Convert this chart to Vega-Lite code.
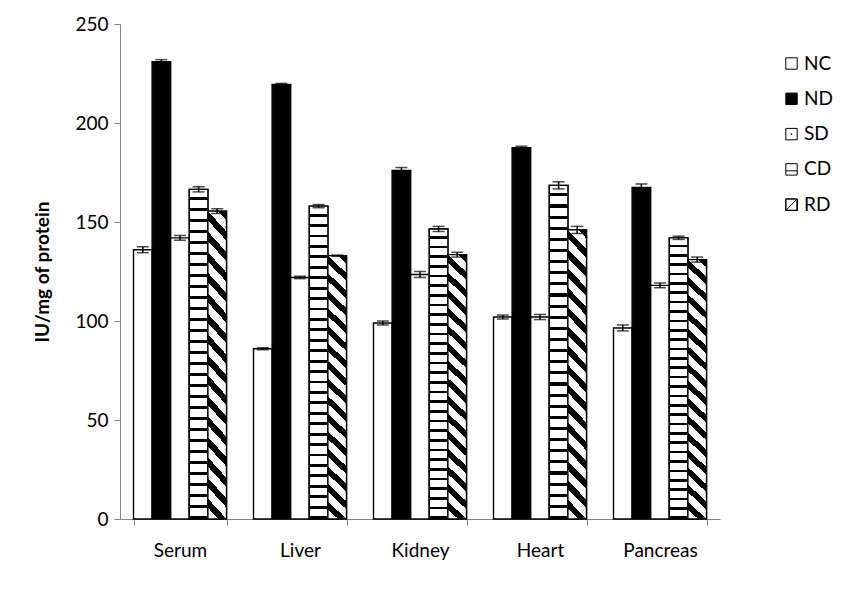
{
  "$schema": "https://vega.github.io/schema/vega-lite/v6.json",
  "width": 600,
  "height": 495,
  "autosize": "none",
  "padding": {"left": 120, "top": 24, "right": 123, "bottom": 78},
  "background": "white",
  "config": {
    "font": "Lato",
    "view": {"stroke": null},
    "axis": {"labelFont": "Lato", "titleFont": "Lato", "labelColor": "black", "titleColor": "black", "domainColor": "#868686", "tickColor": "#868686", "grid": false}
  },
  "data": {
    "values": [
      {"organ": "Serum", "group": "NC", "value": 136, "lo": 134.5, "hi": 137.5},
      {"organ": "Serum", "group": "ND", "value": 231, "lo": 230, "hi": 232},
      {"organ": "Serum", "group": "SD", "value": 142, "lo": 140.8, "hi": 143.2},
      {"organ": "Serum", "group": "CD", "value": 166.5, "lo": 165.2, "hi": 167.8},
      {"organ": "Serum", "group": "RD", "value": 155.5, "lo": 154.3, "hi": 156.7},
      {"organ": "Liver", "group": "NC", "value": 86, "lo": 85.5, "hi": 86.5},
      {"organ": "Liver", "group": "ND", "value": 219.5, "lo": 219, "hi": 220},
      {"organ": "Liver", "group": "SD", "value": 122, "lo": 121.4, "hi": 122.6},
      {"organ": "Liver", "group": "CD", "value": 158, "lo": 157.2, "hi": 158.8},
      {"organ": "Liver", "group": "RD", "value": 133, "lo": 132.7, "hi": 133.3},
      {"organ": "Kidney", "group": "NC", "value": 99, "lo": 98, "hi": 100},
      {"organ": "Kidney", "group": "ND", "value": 176, "lo": 174.5, "hi": 177.5},
      {"organ": "Kidney", "group": "SD", "value": 123.5, "lo": 122, "hi": 125},
      {"organ": "Kidney", "group": "CD", "value": 146.5, "lo": 145.2, "hi": 147.8},
      {"organ": "Kidney", "group": "RD", "value": 133.5, "lo": 132.3, "hi": 134.7},
      {"organ": "Heart", "group": "NC", "value": 102, "lo": 101, "hi": 103},
      {"organ": "Heart", "group": "ND", "value": 187.5, "lo": 186.7, "hi": 188.3},
      {"organ": "Heart", "group": "SD", "value": 102, "lo": 100.7, "hi": 103.3},
      {"organ": "Heart", "group": "CD", "value": 168.5, "lo": 166.7, "hi": 170.3},
      {"organ": "Heart", "group": "RD", "value": 146, "lo": 144.2, "hi": 147.8},
      {"organ": "Pancreas", "group": "NC", "value": 96.5, "lo": 95, "hi": 98},
      {"organ": "Pancreas", "group": "ND", "value": 167.5, "lo": 165.8, "hi": 169.2},
      {"organ": "Pancreas", "group": "SD", "value": 118, "lo": 116.8, "hi": 119.2},
      {"organ": "Pancreas", "group": "CD", "value": 142, "lo": 141.2, "hi": 142.8},
      {"organ": "Pancreas", "group": "RD", "value": 131, "lo": 129.7, "hi": 132.3}
    ]
  },
  "encoding": {
    "x": {
      "field": "organ", "type": "nominal",
      "scale": {"domain": ["Serum", "Liver", "Kidney", "Heart", "Pancreas"], "paddingInner": 0.225, "paddingOuter": 0.1125},
      "axis": {"title": null, "labelAngle": 0, "labelFontSize": 19, "tickSize": 6, "tickBand": "extent", "labelPadding": 16}
    },
    "xOffset": {"field": "group", "type": "nominal", "scale": {"domain": ["NC", "ND", "SD", "CD", "RD"]}}
  },
  "layer": [
    {
      "mark": {"type": "bar", "stroke": "black", "strokeWidth": 1.4},
      "encoding": {
        "y": {
          "field": "value", "type": "quantitative",
          "scale": {"domain": [0, 250], "nice": false},
          "axis": {"title": "IU/mg of protein", "titleFontSize": 19, "titleFontWeight": "bold", "values": [0, 50, 100, 150, 200, 250], "labelFontSize": 19, "tickSize": 6, "labelPadding": 6, "titlePadding": 22}
        },
        "fill": {
          "field": "group", "type": "nominal",
          "scale": {"domain": ["NC", "ND", "SD", "CD", "RD"], "range": ["white", "black", "white", "white", "white"]},
          "legend": {
            "orient": "none", "legendX": 662, "legendY": 30, "title": null, "padding": 0,
            "labelFontSize": 19, "labelFont": "Lato", "labelColor": "black", "symbolSize": 130, "rowPadding": 15.3, "labelOffset": 3,
            "symbolStrokeColor": "black", "symbolStrokeWidth": 1,
            "encode": {
              "symbols": {
                "update": {
                  "shape": {"signal": "datum.value == 'SD' ? 'M-1,-1H1V1H-1Z M-0.06,-0.06H0.06V0.06H-0.06Z' : datum.value == 'CD' ? 'M-1,-1H1V1H-1Z M-1,0.25H1' : datum.value == 'RD' ? 'M-1,-1H1V1H-1V-1V1H1V-1Z M1,-1L1,1L-1,1Z' : 'square'"},
                  "fill": {"signal": "datum.value == 'ND' || datum.value == 'RD' ? 'black' : 'white'"},
                  "stroke": {"value": "black"},
                  "strokeWidth": {"value": 1}
                }
              }
            }
          }
        }
      }
    },
    {
      "transform": [{"filter": "datum.group == 'CD'"}],
      "mark": {
        "type": "bar", "stroke": "black", "strokeWidth": 1.4,
        "fill": {
          "gradient": "linear", "x1": 0, "y1": 0, "x2": 0, "y2": 1,
          "stops": [
            {"offset": 0, "color": "#fff"}, {"offset": 0.024, "color": "#fff"}, {"offset": 0.024, "color": "#000"}, {"offset": 0.0333, "color": "#000"},
            {"offset": 0.0333, "color": "#fff"}, {"offset": 0.0573, "color": "#fff"}, {"offset": 0.0573, "color": "#000"}, {"offset": 0.0667, "color": "#000"},
            {"offset": 0.0667, "color": "#fff"}, {"offset": 0.0907, "color": "#fff"}, {"offset": 0.0907, "color": "#000"}, {"offset": 0.1, "color": "#000"},
            {"offset": 0.1, "color": "#fff"}, {"offset": 0.124, "color": "#fff"}, {"offset": 0.124, "color": "#000"}, {"offset": 0.1333, "color": "#000"},
            {"offset": 0.1333, "color": "#fff"}, {"offset": 0.1573, "color": "#fff"}, {"offset": 0.1573, "color": "#000"}, {"offset": 0.1667, "color": "#000"},
            {"offset": 0.1667, "color": "#fff"}, {"offset": 0.1907, "color": "#fff"}, {"offset": 0.1907, "color": "#000"}, {"offset": 0.2, "color": "#000"},
            {"offset": 0.2, "color": "#fff"}, {"offset": 0.224, "color": "#fff"}, {"offset": 0.224, "color": "#000"}, {"offset": 0.2333, "color": "#000"},
            {"offset": 0.2333, "color": "#fff"}, {"offset": 0.2573, "color": "#fff"}, {"offset": 0.2573, "color": "#000"}, {"offset": 0.2667, "color": "#000"},
            {"offset": 0.2667, "color": "#fff"}, {"offset": 0.2907, "color": "#fff"}, {"offset": 0.2907, "color": "#000"}, {"offset": 0.3, "color": "#000"},
            {"offset": 0.3, "color": "#fff"}, {"offset": 0.324, "color": "#fff"}, {"offset": 0.324, "color": "#000"}, {"offset": 0.3333, "color": "#000"},
            {"offset": 0.3333, "color": "#fff"}, {"offset": 0.3573, "color": "#fff"}, {"offset": 0.3573, "color": "#000"}, {"offset": 0.3667, "color": "#000"},
            {"offset": 0.3667, "color": "#fff"}, {"offset": 0.3907, "color": "#fff"}, {"offset": 0.3907, "color": "#000"}, {"offset": 0.4, "color": "#000"},
            {"offset": 0.4, "color": "#fff"}, {"offset": 0.424, "color": "#fff"}, {"offset": 0.424, "color": "#000"}, {"offset": 0.4333, "color": "#000"},
            {"offset": 0.4333, "color": "#fff"}, {"offset": 0.4573, "color": "#fff"}, {"offset": 0.4573, "color": "#000"}, {"offset": 0.4667, "color": "#000"},
            {"offset": 0.4667, "color": "#fff"}, {"offset": 0.4907, "color": "#fff"}, {"offset": 0.4907, "color": "#000"}, {"offset": 0.5, "color": "#000"},
            {"offset": 0.5, "color": "#fff"}, {"offset": 0.524, "color": "#fff"}, {"offset": 0.524, "color": "#000"}, {"offset": 0.5333, "color": "#000"},
            {"offset": 0.5333, "color": "#fff"}, {"offset": 0.5573, "color": "#fff"}, {"offset": 0.5573, "color": "#000"}, {"offset": 0.5667, "color": "#000"},
            {"offset": 0.5667, "color": "#fff"}, {"offset": 0.5907, "color": "#fff"}, {"offset": 0.5907, "color": "#000"}, {"offset": 0.6, "color": "#000"},
            {"offset": 0.6, "color": "#fff"}, {"offset": 0.624, "color": "#fff"}, {"offset": 0.624, "color": "#000"}, {"offset": 0.6333, "color": "#000"},
            {"offset": 0.6333, "color": "#fff"}, {"offset": 0.6573, "color": "#fff"}, {"offset": 0.6573, "color": "#000"}, {"offset": 0.6667, "color": "#000"},
            {"offset": 0.6667, "color": "#fff"}, {"offset": 0.6907, "color": "#fff"}, {"offset": 0.6907, "color": "#000"}, {"offset": 0.7, "color": "#000"},
            {"offset": 0.7, "color": "#fff"}, {"offset": 0.724, "color": "#fff"}, {"offset": 0.724, "color": "#000"}, {"offset": 0.7333, "color": "#000"},
            {"offset": 0.7333, "color": "#fff"}, {"offset": 0.7573, "color": "#fff"}, {"offset": 0.7573, "color": "#000"}, {"offset": 0.7667, "color": "#000"},
            {"offset": 0.7667, "color": "#fff"}, {"offset": 0.7907, "color": "#fff"}, {"offset": 0.7907, "color": "#000"}, {"offset": 0.8, "color": "#000"},
            {"offset": 0.8, "color": "#fff"}, {"offset": 0.824, "color": "#fff"}, {"offset": 0.824, "color": "#000"}, {"offset": 0.8333, "color": "#000"},
            {"offset": 0.8333, "color": "#fff"}, {"offset": 0.8573, "color": "#fff"}, {"offset": 0.8573, "color": "#000"}, {"offset": 0.8667, "color": "#000"},
            {"offset": 0.8667, "color": "#fff"}, {"offset": 0.8907, "color": "#fff"}, {"offset": 0.8907, "color": "#000"}, {"offset": 0.9, "color": "#000"},
            {"offset": 0.9, "color": "#fff"}, {"offset": 0.924, "color": "#fff"}, {"offset": 0.924, "color": "#000"}, {"offset": 0.9333, "color": "#000"},
            {"offset": 0.9333, "color": "#fff"}, {"offset": 0.9573, "color": "#fff"}, {"offset": 0.9573, "color": "#000"}, {"offset": 0.9667, "color": "#000"},
            {"offset": 0.9667, "color": "#fff"}, {"offset": 0.9907, "color": "#fff"}, {"offset": 0.9907, "color": "#000"}, {"offset": 1, "color": "#000"}
          ]
        }
      },
      "encoding": {"y": {"field": "value", "type": "quantitative"}}
    },
    {
      "transform": [{"filter": "datum.group == 'RD'"}],
      "mark": {
        "type": "bar", "stroke": "black", "strokeWidth": 1.4,
        "fill": {
          "gradient": "linear", "x1": 0, "y1": 1, "x2": 0.0708, "y2": -0.062,
          "stops": [
            {"offset": 0, "color": "#fff"}, {"offset": 0.0344, "color": "#fff"}, {"offset": 0.0344, "color": "#000"}, {"offset": 0.0625, "color": "#000"},
            {"offset": 0.0625, "color": "#fff"}, {"offset": 0.0969, "color": "#fff"}, {"offset": 0.0969, "color": "#000"}, {"offset": 0.125, "color": "#000"},
            {"offset": 0.125, "color": "#fff"}, {"offset": 0.1594, "color": "#fff"}, {"offset": 0.1594, "color": "#000"}, {"offset": 0.1875, "color": "#000"},
            {"offset": 0.1875, "color": "#fff"}, {"offset": 0.2219, "color": "#fff"}, {"offset": 0.2219, "color": "#000"}, {"offset": 0.25, "color": "#000"},
            {"offset": 0.25, "color": "#fff"}, {"offset": 0.2844, "color": "#fff"}, {"offset": 0.2844, "color": "#000"}, {"offset": 0.3125, "color": "#000"},
            {"offset": 0.3125, "color": "#fff"}, {"offset": 0.3469, "color": "#fff"}, {"offset": 0.3469, "color": "#000"}, {"offset": 0.375, "color": "#000"},
            {"offset": 0.375, "color": "#fff"}, {"offset": 0.4094, "color": "#fff"}, {"offset": 0.4094, "color": "#000"}, {"offset": 0.4375, "color": "#000"},
            {"offset": 0.4375, "color": "#fff"}, {"offset": 0.4719, "color": "#fff"}, {"offset": 0.4719, "color": "#000"}, {"offset": 0.5, "color": "#000"},
            {"offset": 0.5, "color": "#fff"}, {"offset": 0.5344, "color": "#fff"}, {"offset": 0.5344, "color": "#000"}, {"offset": 0.5625, "color": "#000"},
            {"offset": 0.5625, "color": "#fff"}, {"offset": 0.5969, "color": "#fff"}, {"offset": 0.5969, "color": "#000"}, {"offset": 0.625, "color": "#000"},
            {"offset": 0.625, "color": "#fff"}, {"offset": 0.6594, "color": "#fff"}, {"offset": 0.6594, "color": "#000"}, {"offset": 0.6875, "color": "#000"},
            {"offset": 0.6875, "color": "#fff"}, {"offset": 0.7219, "color": "#fff"}, {"offset": 0.7219, "color": "#000"}, {"offset": 0.75, "color": "#000"},
            {"offset": 0.75, "color": "#fff"}, {"offset": 0.7844, "color": "#fff"}, {"offset": 0.7844, "color": "#000"}, {"offset": 0.8125, "color": "#000"},
            {"offset": 0.8125, "color": "#fff"}, {"offset": 0.8469, "color": "#fff"}, {"offset": 0.8469, "color": "#000"}, {"offset": 0.875, "color": "#000"},
            {"offset": 0.875, "color": "#fff"}, {"offset": 0.9094, "color": "#fff"}, {"offset": 0.9094, "color": "#000"}, {"offset": 0.9375, "color": "#000"},
            {"offset": 0.9375, "color": "#fff"}, {"offset": 0.9719, "color": "#fff"}, {"offset": 0.9719, "color": "#000"}, {"offset": 1, "color": "#000"}
          ]
        }
      },
      "encoding": {"y": {"field": "value", "type": "quantitative"}}
    },
    {
      "mark": {"type": "rule", "color": "black", "strokeWidth": 1.5},
      "encoding": {
        "y": {"field": "lo", "type": "quantitative"},
        "y2": {"field": "hi"}
      }
    },
    {
      "mark": {"type": "tick", "color": "black", "size": 12, "thickness": 1.5},
      "encoding": {"y": {"field": "lo", "type": "quantitative"}}
    },
    {
      "mark": {"type": "tick", "color": "black", "size": 12, "thickness": 1.5},
      "encoding": {"y": {"field": "hi", "type": "quantitative"}}
    }
  ]
}
